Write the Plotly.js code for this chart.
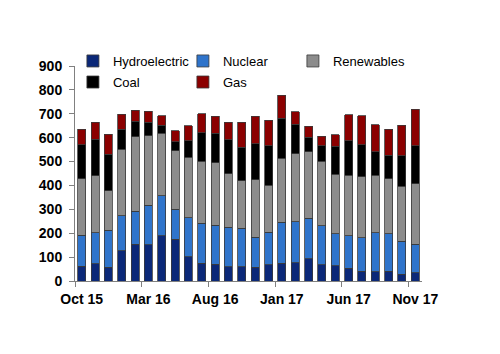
<!DOCTYPE html>
<html>
<head>
<meta charset="utf-8">
<script src="https://cdn.plot.ly/plotly-3.0.1.min.js"></script>
<style>html,body{margin:0;padding:0;background:#fff;}#chart{width:500px;height:354px;}</style>
</head>
<body>
<div id="chart"></div>
<script>
var months = ["Oct 15","Nov 15","Dec 15","Jan 16","Feb 16","Mar 16","Apr 16","May 16","Jun 16","Jul 16","Aug 16","Sep 16","Oct 16","Nov 16","Dec 16","Jan 17","Feb 17","Mar 17","Apr 17","May 17","Jun 17","Jul 17","Aug 17","Sep 17","Oct 17","Nov 17"];
var hydro      = [61, 73, 57, 126, 154, 152, 189, 175, 102, 75, 70, 59, 59, 57, 67, 74, 77, 94, 67, 63, 54, 41, 38, 41, 29, 34];
var nuclear    = [130, 130, 155, 148, 137, 165, 167, 125, 162, 167, 163, 166, 162, 126, 137, 171, 170, 169, 164, 135, 136, 141, 163, 157, 138, 120];
var renewables = [238, 237, 165, 278, 313, 292, 262, 246, 253, 260, 263, 224, 198, 240, 196, 268, 285, 278, 271, 249, 253, 255, 242, 231, 229, 253];
var coal       = [142, 154, 153, 84, 65, 56, 34, 37, 70, 118, 122, 143, 140, 151, 166, 169, 125, 60, 64, 117, 145, 133, 99, 98, 128, 159];
var gas        = [65, 70, 85, 61, 45, 46, 40, 47, 63, 80, 72, 73, 106, 116, 106, 96, 51, 46, 39, 49, 108, 122, 113, 109, 129, 154];
var tickEvery = 5;

var idx = months.map(function(m, i){ return i; });
var labelVals = idx.filter(function(i){ return i % tickEvery === 0; });
var labelText = labelVals.map(function(i){ return months[i]; });
var boundaryVals = labelVals.map(function(v){ return v - 0.5; });

var series = [
  {name: "Hydroelectric", y: hydro, color: "#0b2878", legend: "legend"},
  {name: "Nuclear", y: nuclear, color: "#2f74cb", legend: "legend"},
  {name: "Renewables", y: renewables, color: "#8c8c8c", legend: "legend", lw: 85},
  {name: "Coal", y: coal, color: "#000000", legend: "legend2"},
  {name: "Gas", y: gas, color: "#8b0000", legend: "legend2"}
];

var traces = series.map(function(s){
  var t = {
    type: "bar",
    name: s.name,
    x: idx,
    y: s.y,
    customdata: months,
    legend: s.legend,
    hovertemplate: "%{customdata}<br>" + s.name + ": %{y}<extra></extra>",
    marker: {color: s.color, line: {color: "#3a3a3a", width: 0.8}}
  };
  if (s.lw) t.legendwidth = s.lw;
  return t;
});

var fontFam = "Liberation Sans, Arial, sans-serif";
function legendBox(yPos){
  return {
    orientation: "h",
    x: -0.006,
    xanchor: "left",
    y: yPos,
    yanchor: "top",
    traceorder: "normal",
    entrywidth: 65,
    entrywidthmode: "pixels",
    font: {family: fontFam, size: 13, color: "#000000"},
    bgcolor: "rgba(0,0,0,0)",
    borderwidth: 0
  };
}
var layout = {
  width: 500,
  height: 354,
  margin: {l: 75, r: 78, t: 66, b: 73, pad: 0},
  paper_bgcolor: "#ffffff",
  plot_bgcolor: "#ffffff",
  barmode: "stack",
  bargap: 0.4,
  showlegend: true,
  legend: legendBox(1.093),
  legend2: legendBox(0.995),
  xaxis: {
    range: [-0.5, months.length - 0.5],
    tickmode: "array",
    tickvals: labelVals,
    ticktext: labelText,
    ticks: "",
    ticklabelstandoff: 5,
    showgrid: false,
    zeroline: false,
    showline: true,
    linecolor: "#808080",
    linewidth: 1,
    tickfont: {family: fontFam, size: 14, color: "#000000", weight: "bold"},
    minor: {
      tickmode: "array",
      tickvals: boundaryVals,
      ticks: "outside",
      ticklen: 5,
      tickcolor: "#808080",
      tickwidth: 1,
      showgrid: false
    },
    fixedrange: true
  },
  yaxis: {
    range: [0, 900],
    tickmode: "linear",
    tick0: 0,
    dtick: 100,
    ticks: "outside",
    ticklen: 5,
    ticklabelstandoff: 4,
    tickcolor: "#808080",
    showgrid: false,
    zeroline: false,
    showline: true,
    linecolor: "#808080",
    linewidth: 1,
    tickfont: {family: fontFam, size: 14, color: "#000000", weight: "bold"},
    fixedrange: true
  }
};

Plotly.newPlot("chart", traces, layout, {displayModeBar: false});
</script>
</body>
</html>
